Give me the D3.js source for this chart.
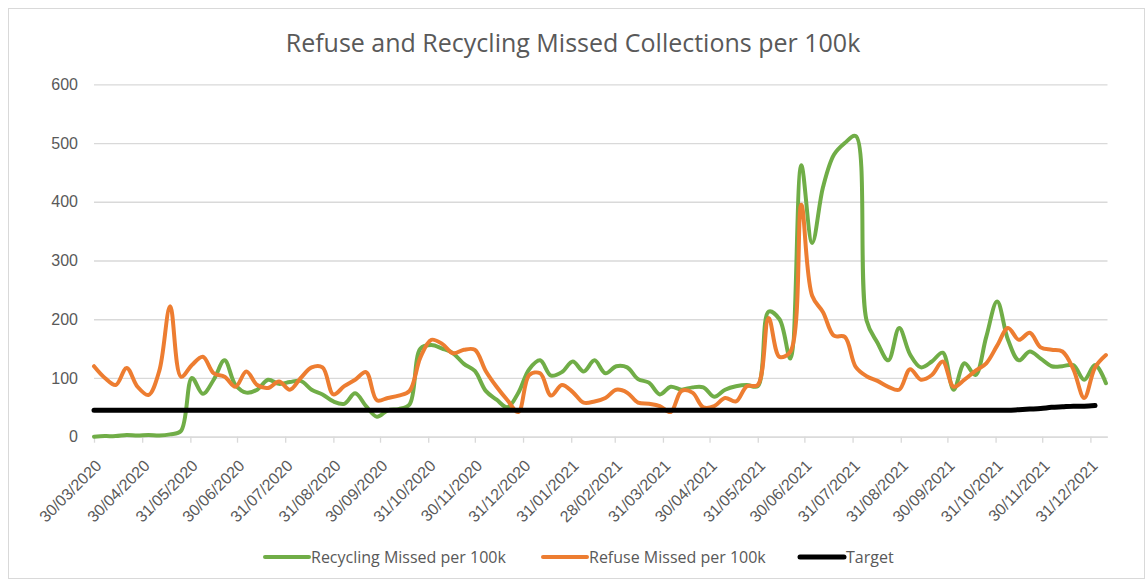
<!DOCTYPE html>
<html>
<head>
<meta charset="utf-8">
<script src="https://cdn.jsdelivr.net/npm/d3@7"></script>
<style>
  body { margin: 0; background: #fff; }
  svg { display: block; font-family: "Open Sans", "Noto Sans", sans-serif; }
</style>
</head>
<body>
<svg id="chart" width="1146" height="584"></svg>
<script>
// weekly figures, first week starting 30/03/2020
var firstWeek = "30/03/2020";

var recycling = [0, 1, 1, 3, 2, 3, 2, 4, 10, 100, 73, 97, 130, 88, 75, 80,
    97, 90, 93, 95, 80, 72, 60, 56, 74, 52, 34, 45, 47, 55, 150, 156,
    150, 142, 124, 112, 78, 63, 50, 75, 115, 130, 104, 110, 128, 111, 130,
    108, 120, 118, 98, 92, 72, 85, 80, 84, 84, 68, 80, 86, 88, 86,
    213, 200, 133, 462, 330, 425, 480, 500, 512, 198, 160, 130, 185, 140, 118,
    128, 143, 80, 125, 105, 170, 230, 165, 130, 145, 133, 120, 120, 122, 97, 122, 91];

var refuse = [120, 100, 88, 117, 85, 71, 112, 222, 102, 122, 136, 108, 102, 85, 111, 88,
    83, 94, 80, 100, 118, 118, 72, 86, 97, 110, 62, 66, 70, 78, 135, 165,
    158, 142, 148, 148, 112, 85, 62, 42, 105, 108, 70, 88, 76, 58, 60,
    66, 80, 75, 58, 56, 52, 42, 78, 75, 50, 52, 66, 60, 86, 88,
    202, 136, 145, 395, 240, 212, 172, 170, 119, 103, 95, 85, 80, 115, 97,
    105, 128, 85, 97, 112, 125, 155, 185, 165, 177, 152, 148, 145, 115, 66, 118, 139];

var target = [45, 45, 45, 45, 45, 45, 45, 45, 45, 45, 45, 45, 45, 45, 45, 45,
    45, 45, 45, 45, 45, 45, 45, 45, 45, 45, 45, 45, 45, 45, 45, 45,
    45, 45, 45, 45, 45, 45, 45, 45, 45, 45, 45, 45, 45, 45, 45,
    45, 45, 45, 45, 45, 45, 45, 45, 45, 45, 45, 45, 45, 45, 45,
    45, 45, 45, 45, 45, 45, 45, 45, 45, 45, 45, 45, 45, 45, 45,
    45, 45, 45, 45, 45, 45, 45, 45, 46, 47, 48, 50, 51, 52, 52, 53];

var tickLabels = ["30/03/2020", "30/04/2020", "31/05/2020", "30/06/2020", "31/07/2020",
    "31/08/2020", "30/09/2020", "31/10/2020", "30/11/2020", "31/12/2020", "31/01/2021",
    "28/02/2021", "31/03/2021", "30/04/2021", "31/05/2021", "30/06/2021", "31/07/2021",
    "31/08/2021", "30/09/2021", "31/10/2021", "30/11/2021", "31/12/2021"];

var yTicks = [0, 100, 200, 300, 400, 500, 600];

var seriesNames = ["Recycling Missed per 100k", "Refuse Missed per 100k", "Target"];
var seriesColors = ["#70ad47", "#ed7d31", "#000000"];

var parseDate = d3.timeParse("%d/%m/%Y");
var start = parseDate(firstWeek);
var dates = recycling.map(function(d, i) { return d3.timeDay.offset(start, 7 * i); });

var plot = {left: 94, right: 1107.5, top: 84.3, bottom: 436.7};

var svg = d3.select("#chart");

// chart area border
svg.append("rect")
    .attr("x", 8.5).attr("y", 8.5)
    .attr("width", 1136).attr("height", 570)
    .attr("fill", "#fff")
    .attr("stroke", "#d9d9d9");

var x = d3.scaleTime()
    .domain([start, d3.timeDay.offset(start, 652)])
    .range([plot.left, plot.right]);

var y = d3.scaleLinear()
    .domain([0, 600])
    .range([plot.bottom, plot.top]);

// gridlines + y labels
var yAxis = svg.append("g")
    .attr("transform", "translate(" + plot.left + ",0)")
    .call(d3.axisLeft(y).tickValues(yTicks).tickSize(-(plot.right - plot.left)).tickPadding(16));
yAxis.select(".domain").remove();
yAxis.selectAll(".tick line").attr("stroke", "#d9d9d9").attr("stroke-width", 1.3);
yAxis.selectAll(".tick text")
    .attr("fill", "#595959")
    .style("font-size", "16px");

// x axis
var xAxis = svg.append("g")
    .attr("transform", "translate(0," + plot.bottom + ")")
    .call(d3.axisBottom(x)
        .tickValues(tickLabels.map(parseDate))
        .tickFormat(d3.timeFormat("%d/%m/%Y"))
        .tickSize(6)
        .tickSizeOuter(0));
xAxis.select(".domain").attr("stroke", "#d9d9d9").attr("stroke-width", 1.3);
xAxis.selectAll(".tick line").attr("stroke", "#d9d9d9").attr("stroke-width", 1.3);
xAxis.selectAll(".tick text")
    .attr("fill", "#595959")
    .style("font-size", "16px")
    .attr("text-anchor", "end")
    .attr("y", 0)
    .attr("dy", 0)
    .attr("transform", "translate(8,30) rotate(-45)");

// lines
var allSeries = [recycling, refuse, target];
var line = d3.line()
    .x(function(d, i) { return x(dates[i]); })
    .y(function(d) { return y(d); })
    .curve(d3.curveCatmullRom.alpha(0.5));

svg.append("g")
    .selectAll("path")
    .data(allSeries)
    .enter()
    .append("path")
    .attr("d", function(d) { return line(d); })
    .attr("fill", "none")
    .attr("stroke", function(d, i) { return seriesColors[i]; })
    .attr("stroke-width", function(d, i) { return i == 2 ? 5 : 4; })
    .attr("stroke-linejoin", "round")
    .attr("stroke-linecap", "round");

// title
svg.append("text")
    .attr("x", 573)
    .attr("y", 52)
    .attr("text-anchor", "middle")
    .attr("fill", "#595959")
    .style("font-size", "25px")
    .text("Refuse and Recycling Missed Collections per 100k");

// legend
var legendX = [265, 543, 800];
var legend = svg.append("g")
    .selectAll("g")
    .data(seriesNames)
    .enter()
    .append("g")
    .attr("transform", function(d, i) { return "translate(" + legendX[i] + ",557)"; });

legend.append("line")
    .attr("x1", 0).attr("x2", 44)
    .attr("stroke", function(d, i) { return seriesColors[i]; })
    .attr("stroke-width", function(d, i) { return i == 2 ? 5 : 4; })
    .attr("stroke-linecap", "round");

legend.append("text")
    .attr("x", 46)
    .attr("y", 5.5)
    .attr("fill", "#595959")
    .style("font-size", "16px")
    .text(function(d) { return d; });
</script>
</body>
</html>
